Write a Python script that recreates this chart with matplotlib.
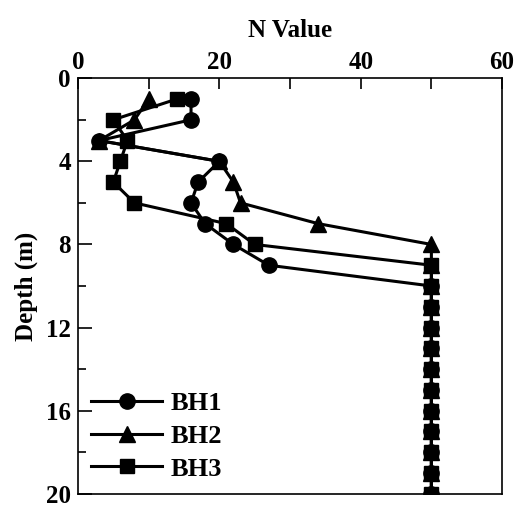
import matplotlib.pyplot as plt
from matplotlib.ticker import MultipleLocator

plt.rcParams['font.family'] = ['Liberation Serif', 'DejaVu Serif']
plt.rcParams['font.weight'] = 'bold'

depth = [1, 2, 3, 4, 5, 6, 7, 8, 9, 10, 11, 12, 13, 14, 15, 16, 17, 18, 19, 20]
bh1 = [16, 16, 3, 20, 17, 16, 18, 22, 27, 50, 50, 50, 50, 50, 50, 50, 50, 50, 50, 50]
bh2 = [10, 8, 3, 20, 22, 23, 34, 50, 50, 50, 50, 50, 50, 50, 50, 50, 50, 50, 50, 50]
bh3 = [14, 5, 7, 6, 5, 8, 21, 25, 50, 50, 50, 50, 50, 50, 50, 50, 50, 50, 50, 50]

fig = plt.figure(figsize=(5.23, 5.08), dpi=100)
ax = fig.add_axes([0.149, 0.028, 0.811, 0.818])

ax.plot(bh1, depth, 'k-', marker='o', ms=11, lw=2.2, label='BH1', zorder=3)
ax.plot(bh2, depth, 'k-', marker='^', ms=11, lw=2.2, label='BH2', zorder=5)
ax.plot(bh3, depth, 'k-', marker='s', ms=9.5, lw=2.2, label='BH3', zorder=4)

ax.set_xlim(0, 60)
ax.set_ylim(20, 0)
ax.xaxis.set_major_locator(MultipleLocator(20))
ax.xaxis.set_minor_locator(MultipleLocator(10))
ax.yaxis.set_major_locator(MultipleLocator(4))
ax.yaxis.set_minor_locator(MultipleLocator(2))
ax.xaxis.tick_top()
ax.xaxis.set_label_position('top')
ax.tick_params(axis='x', which='both', direction='in', length=8, width=1.2,
               labelsize=18, pad=3, top=True, bottom=False)
ax.tick_params(axis='y', which='major', direction='in', length=10, width=1.2,
               labelsize=18, pad=5, right=False)
ax.tick_params(axis='y', which='minor', direction='in', length=6, width=1.2, right=False)
for s in ax.spines.values():
    s.set_linewidth(1.2)

ax.set_xlabel('N Value', fontsize=18, fontweight='bold', labelpad=10)
ax.set_ylabel('Depth (m)', fontsize=18, fontweight='bold', labelpad=6)

ax.legend(loc='lower left', frameon=False, fontsize=19, handlelength=2.7,
          labelspacing=0.35, handletextpad=0.3, borderaxespad=0.1)

plt.savefig('out.png', dpi=100)
